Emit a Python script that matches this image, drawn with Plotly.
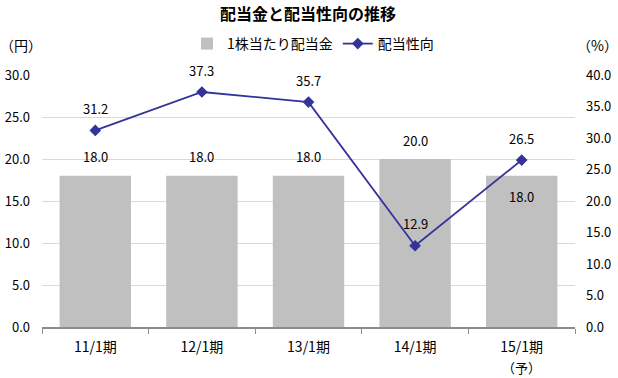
import plotly.graph_objects as go

categories = ["11/1期", "12/1期", "13/1期", "14/1期", "15/1期"]
category_notes = ["", "", "", "", "（予）"]
dividend = [18.0, 18.0, 18.0, 20.0, 18.0]
payout = [31.2, 37.3, 35.7, 12.9, 26.5]
left_ticks = [0, 5, 10, 15, 20, 25, 30]
right_ticks = [0, 5, 10, 15, 20, 25, 30, 35, 40]

FONT = "Noto Sans CJK JP, Noto Sans, sans-serif"
LINE = "#333399"

fig = go.Figure()
fig.add_trace(go.Bar(
    x=categories, y=dividend, name="1株当たり配当金",
    marker=dict(color="#c0c0c0", line=dict(width=0)),
    yaxis="y",
))
fig.add_trace(go.Scatter(
    x=categories, y=payout, name="配当性向", mode="lines+markers",
    line=dict(color=LINE, width=1.8),
    marker=dict(symbol="diamond", size=9, color=LINE),
    yaxis="y2",
))

annotations = []
for i, (c, v) in enumerate(zip(categories, dividend)):
    shift = -21 if i == 4 else 19
    annotations.append(dict(x=c, y=v, xref="x", yref="y", text=f"{v:.1f}",
                            showarrow=False, yshift=shift,
                            font=dict(size=13, color="#000", family=FONT)))
for c, v in zip(categories, payout):
    annotations.append(dict(x=c, y=v, xref="x", yref="y2", text=f"{v:.1f}",
                            showarrow=False, yshift=22,
                            font=dict(size=13, color="#000", family=FONT)))
for c, note in zip(categories, category_notes):
    if note:
        annotations.append(dict(x=c, y=0, xref="x", yref="paper", text=note,
                                showarrow=False, yshift=-40, yanchor="middle",
                                font=dict(size=13, color="#000", family=FONT)))
annotations.append(dict(text="（円）", x=-0.04, y=1.12, xref="paper", yref="paper",
                        showarrow=False, xanchor="center", yanchor="middle",
                        font=dict(size=14, family=FONT, color="#000")))
annotations.append(dict(text="（%）", x=1.043, y=1.12, xref="paper", yref="paper",
                        showarrow=False, xanchor="center", yanchor="middle",
                        font=dict(size=14, family=FONT, color="#000")))

fig.update_layout(
    width=618, height=378,
    margin=dict(l=42, r=43, t=75, b=51, autoexpand=False),
    paper_bgcolor="white", plot_bgcolor="white",
    font=dict(family=FONT, size=13, color="#000"),
    title=dict(text="<b>配当金と配当性向の推移</b>", x=308/618, xanchor="center",
               y=1 - 14/378, yanchor="middle", font=dict(size=16, color="#000")),
    bargap=0.33,
    showlegend=True,
    legend=dict(orientation="h", x=313/618, xanchor="center", y=1 - 44/378,
                yanchor="middle", xref="container", yref="container",
                font=dict(size=14), itemwidth=30, bgcolor="rgba(0,0,0,0)"),
    xaxis=dict(showline=True, linecolor="#8c8c8c", linewidth=2,
               ticks="outside", ticklen=5, tickcolor="#8c8c8c",
               tickson="boundaries", showgrid=False, ticklabelstandoff=6,
               tickfont=dict(size=14), automargin=False),
    yaxis=dict(range=[0, 30], tickvals=left_ticks, tickformat=".1f",
               showgrid=True, gridcolor="#d9d9d9", gridwidth=1,
               zeroline=False, showline=False, ticks="", ticklabelstandoff=11,
               tickfont=dict(size=13), automargin=False),
    yaxis2=dict(range=[0, 40], tickvals=right_ticks, tickformat=".1f",
                overlaying="y", side="right", showgrid=False, zeroline=False,
                showline=False, ticks="", ticklabelstandoff=10,
                tickfont=dict(size=13), automargin=False),
    annotations=annotations,
)

fig.write_html("out.html")
